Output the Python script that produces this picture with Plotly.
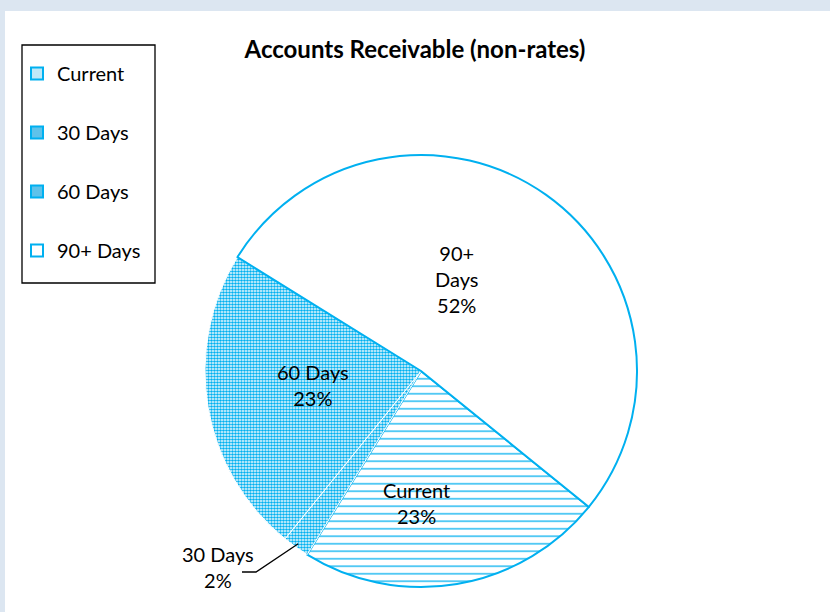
import math
import plotly.graph_objects as go

categories = ["Current", "30 Days", "60 Days", "90+ Days"]
values = [23, 2, 23, 52]
label_names = ["Current", "30 Days", "60 Days", "90+<br>Days"]
# label centres (pixels) as placed in the original chart
label_pos = [(416, 503), (218, 567), (313, 385), (456, 279)]

BLUE = "#00B0F0"
FONT = "Lato"
W, H = 830, 612
ROT = 129
CX, CY, R = 421, 371, 216  # pie placement in pixels (domain)

fig = go.Figure()

fig.add_trace(go.Pie(
    labels=categories,
    values=values,
    textinfo="none",
    sort=False,
    direction="clockwise",
    rotation=ROT,
    showlegend=False,
    hoverinfo="label+percent",
    marker=dict(
        colors=["white", "white", "white", "white"],
        line=dict(color=[BLUE, "white", "white", BLUE], width=[2, 1, 1, 2]),
        pattern=dict(
            shape=["-", ".", ".", ""],
            fgcolor=[BLUE, BLUE, BLUE, BLUE],
            bgcolor=["white", "white", "white", "white"],
            size=[7.5, 3, 3, 8],
            solidity=[0.17, 0.6, 0.6, 0.2],
        ),
    ),
    domain=dict(x=[(CX - R) / W, (CX + R) / W], y=[1 - (CY + R) / H, 1 - (CY - R) / H]),
))

legend_symbols = ["square", "square", "square", "square-open"]
legend_colors = ["#bfe8f8", "#5fc2ea", "#5fc2ea", BLUE]
for name, sym, col in zip(categories, legend_symbols, legend_colors):
    fig.add_trace(go.Scatter(
        x=[None], y=[None], mode="markers", name=name, legendgroup=name,
        marker=dict(symbol=sym, size=11, color=col, line=dict(color=BLUE, width=1.5)),
    ))

total = sum(values)
annotations = []
for name, v, (lx, ly) in zip(label_names, values, label_pos):
    annotations.append(dict(
        text=f"{name}<br>{round(100 * v / total)}%", xref="paper", yref="paper",
        x=lx / W, y=1 - ly / H, xanchor="center", yanchor="middle",
        showarrow=False, align="center",
        font=dict(family=FONT, size=20, color="black"),
    ))

# leader line for the small "30 Days" slice
mid = math.radians(ROT + 360 * (values[0] + values[1] / 2) / total)
px = CX + (R - 4) * math.sin(mid)
py = CY - (R - 4) * math.cos(mid)
elbow_x, elbow_y = 256, 572
end_x = 242

fig.update_layout(
    width=W, height=H,
    margin=dict(l=0, r=0, t=0, b=0),
    paper_bgcolor="#DCE6F1",
    plot_bgcolor="rgba(0,0,0,0)",
    xaxis=dict(visible=False),
    yaxis=dict(visible=False),
    title=dict(
        text="<b>Accounts Receivable (non-rates)</b>",
        x=415 / W, xanchor="center", y=1 - 50 / H, yanchor="middle",
        font=dict(family=FONT, size=24, color="black"),
    ),
    legend=dict(
        x=17 / W, y=1 - 54 / H, xanchor="left", yanchor="top",
        bgcolor="rgba(0,0,0,0)", borderwidth=0,
        font=dict(family=FONT, size=20, color="black"),
        tracegroupgap=30,
        itemsizing="constant",
    ),
    showlegend=True,
    shapes=[
        dict(type="rect", xref="paper", yref="paper",
             x0=5 / W, x1=1.01, y0=-0.01, y1=1 - 11 / H,
             fillcolor="white", line=dict(width=0), layer="below"),
        dict(type="rect", xref="paper", yref="paper",
             x0=22 / W, x1=155 / W, y0=1 - 283 / H, y1=1 - 45 / H,
             fillcolor="white", line=dict(color="black", width=1.3), layer="below"),
        dict(type="path", xref="paper", yref="paper",
             path=(f"M {px / W},{1 - py / H} L {elbow_x / W},{1 - elbow_y / H} "
                   f"L {end_x / W},{1 - elbow_y / H}"),
             line=dict(color="black", width=1.3), layer="above"),
    ],
    annotations=annotations,
)

fig.write_html("out.html", config={"displayModeBar": False},
               post_script="document.body.style.margin='0px';")
